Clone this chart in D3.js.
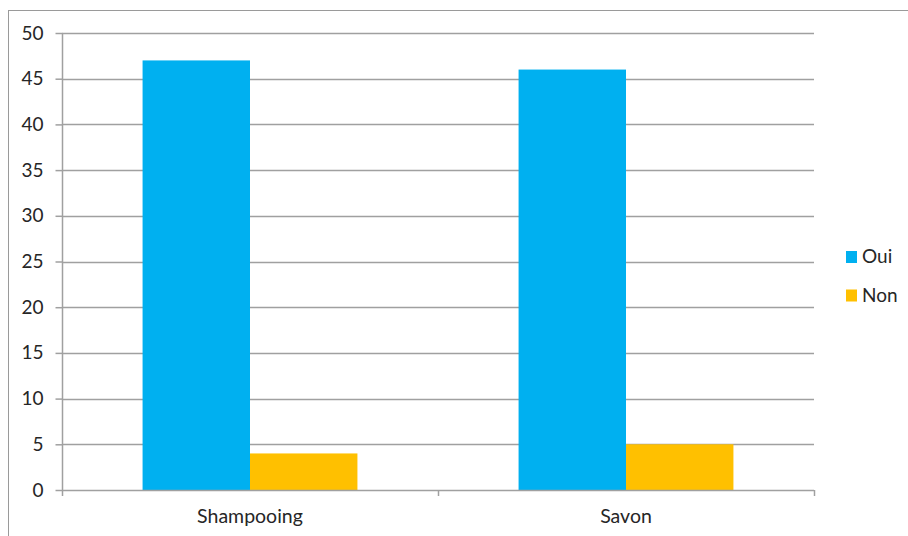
<!DOCTYPE html>
<meta charset="utf-8">
<head>
  <script src="https://cdn.jsdelivr.net/npm/d3@7"></script>
  <style>
    body { margin: 0; background: #fff; }
    text { font-family: Lato, "Open Sans", sans-serif; fill: #262626; }
  </style>
</head>
<body>
<script type="text/javascript">

// donnees du graphique
var categories = ["Shampooing", "Savon"];
var series = ["Oui", "Non"];
var oui = [47, 46];
var non = [4, 5];
var yTicks = [0, 5, 10, 15, 20, 25, 30, 35, 40, 45, 50];
var couleurs = ["#00B0F0", "#FFC000"];

var W = 908, H = 536;
var plot = {left: 62, right: 814, top: 33, bottom: 490};

var svg = d3.select("body").append("svg")
  .attr("width", W).attr("height", H);

// cadre du graphique
svg.append("rect")
  .attr("x", 8.5).attr("y", 10.5)
  .attr("width", W).attr("height", H)
  .attr("fill", "none").attr("stroke", "#9a9a9a").attr("stroke-width", 1);

var yScale = d3.scaleLinear().domain([0, 50]).range([plot.bottom, plot.top]);
var xScale = d3.scaleBand().domain(categories).range([plot.left, plot.right])
  .paddingInner(0).paddingOuter(0);
// gap width 150% -> chaque barre = bande / (2 + 1.5)
var barW = xScale.bandwidth() / 3.5;
var sub = d3.scaleBand().domain(series).range([0, 2 * barW]);

// lignes de grille
svg.selectAll("line.grid")
  .data(yTicks.filter(function(d){ return d > 0; }))
  .enter().append("line")
  .attr("class", "grid")
  .attr("x1", plot.left).attr("x2", plot.right)
  .attr("y1", function(d){ return Math.round(yScale(d)) + 0.5; })
  .attr("y2", function(d){ return Math.round(yScale(d)) + 0.5; })
  .attr("stroke", "#a0a0a0").attr("stroke-width", 1.5);

// barres
var rows = [];
categories.forEach(function(c, i){
  rows.push({cat: c, s: "Oui", v: oui[i]});
  rows.push({cat: c, s: "Non", v: non[i]});
});
var couleur = d3.scaleOrdinal().domain(series).range(couleurs);

svg.selectAll("rect.bar")
  .data(rows).enter().append("rect")
  .attr("class", "bar")
  .attr("x", function(d){ return xScale(d.cat) + (xScale.bandwidth() - 2 * barW) / 2 + sub(d.s); })
  .attr("width", barW)
  .attr("y", function(d){ return yScale(d.v); })
  .attr("height", function(d){ return yScale(0) - yScale(d.v); })
  .attr("fill", function(d){ return couleur(d.s); });

// axe vertical
var yAxis = d3.axisLeft(yScale).tickValues(yTicks).tickSize(7).tickPadding(12);
var gy = svg.append("g").attr("transform", "translate(" + (plot.left + 0.5) + ",0)").call(yAxis);
gy.select(".domain").remove();
gy.selectAll(".tick line").attr("stroke", "#a0a0a0").attr("stroke-width", 1.5);
gy.selectAll(".tick text").attr("font-size", 19).attr("fill", "#262626")
  .style("font-family", "Lato, sans-serif");
svg.append("line")
  .attr("x1", plot.left + 0.5).attr("x2", plot.left + 0.5)
  .attr("y1", plot.top).attr("y2", plot.bottom + 6)
  .attr("stroke", "#a0a0a0").attr("stroke-width", 1.5);

// axe horizontal
svg.append("line")
  .attr("x1", plot.left).attr("x2", plot.right)
  .attr("y1", plot.bottom + 0.5).attr("y2", plot.bottom + 0.5)
  .attr("stroke", "#a0a0a0").attr("stroke-width", 1.5);
var bords = categories.map(function(c){ return xScale(c) + xScale.bandwidth(); });
svg.selectAll("line.xtick")
  .data(bords).enter().append("line")
  .attr("x1", function(d){ return d + 0.5; }).attr("x2", function(d){ return d + 0.5; })
  .attr("y1", plot.bottom).attr("y2", plot.bottom + 6)
  .attr("stroke", "#a0a0a0").attr("stroke-width", 1.5);

svg.selectAll("text.xlab")
  .data(categories).enter().append("text")
  .attr("x", function(d){ return xScale(d) + xScale.bandwidth() / 2; })
  .attr("y", 523)
  .attr("text-anchor", "middle")
  .attr("font-size", 19.5)
  .text(function(d){ return d; });

// legende
var leg = svg.selectAll("g.leg")
  .data(series).enter().append("g")
  .attr("transform", function(d, i){ return "translate(846," + (251 + i * 38.5) + ")"; });
leg.append("rect").attr("width", 11).attr("height", 12)
  .attr("fill", function(d){ return couleur(d); });
leg.append("text").attr("x", 16).attr("y", 12)
  .attr("font-size", 19).text(function(d){ return d; });

</script>
</body>
